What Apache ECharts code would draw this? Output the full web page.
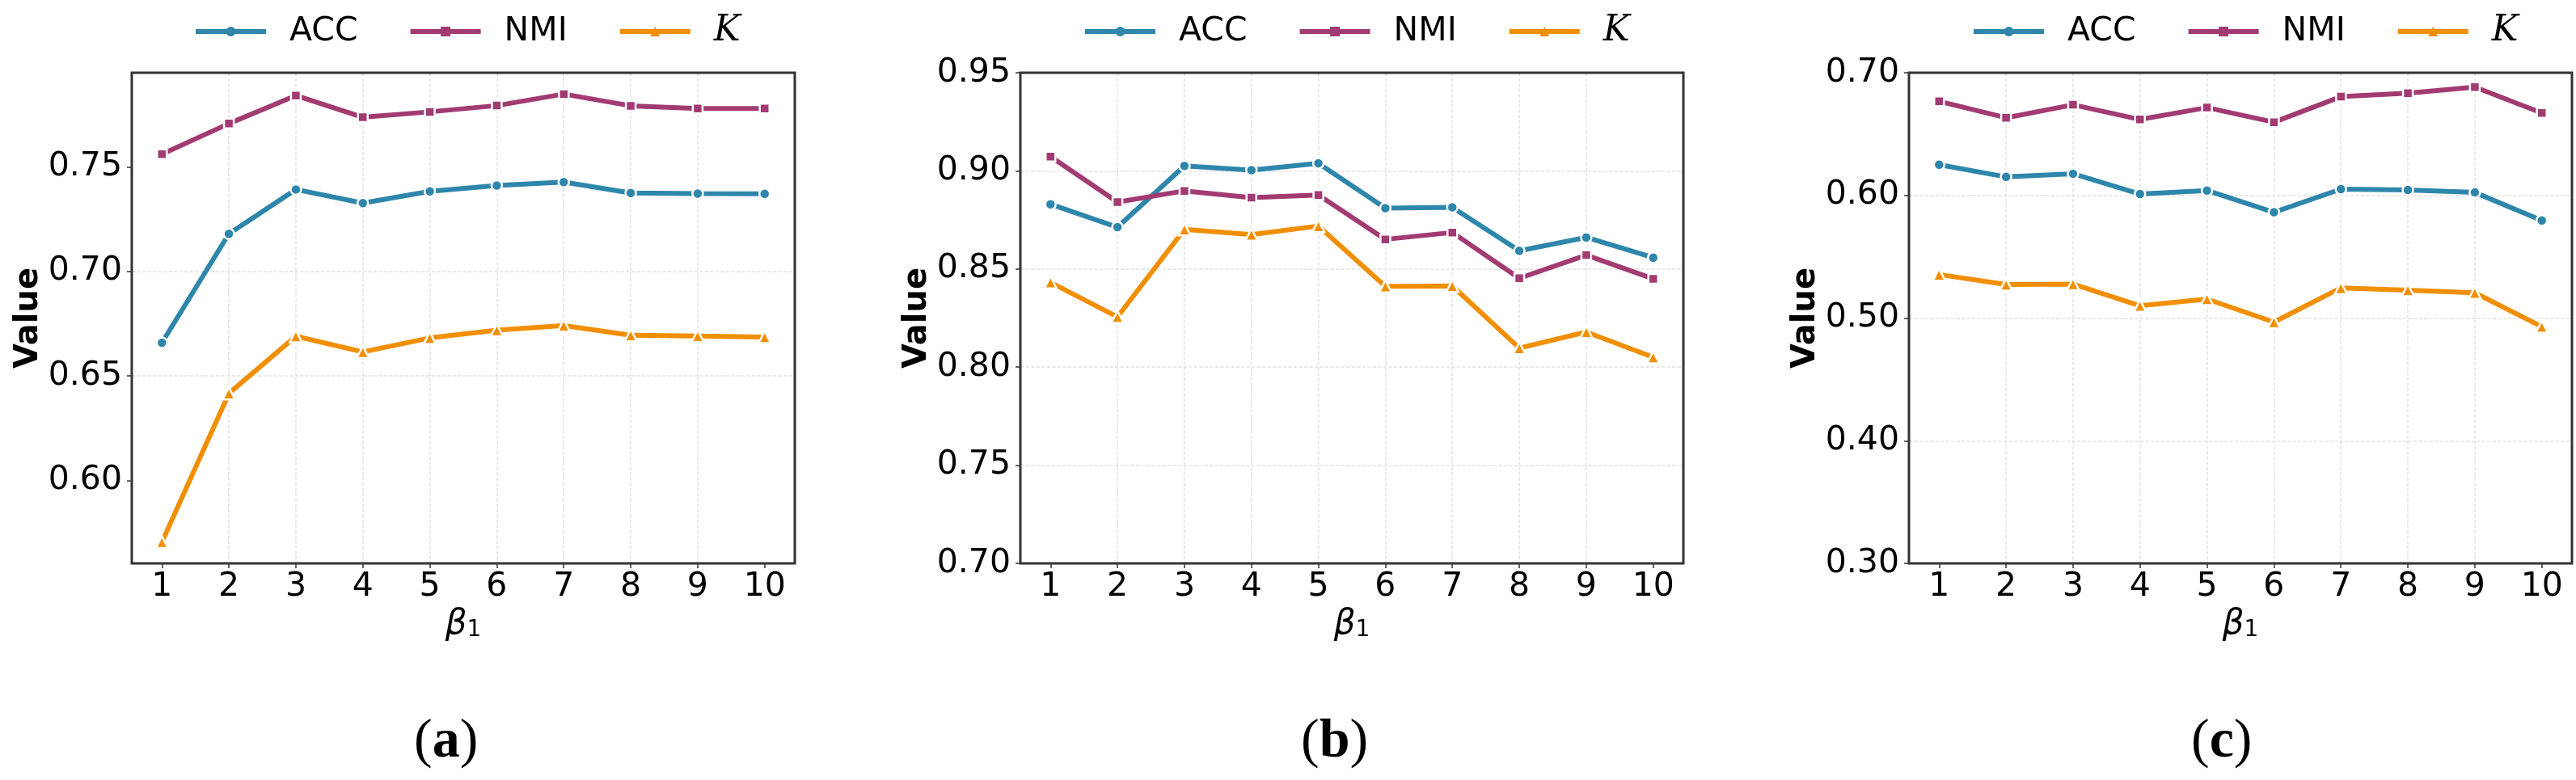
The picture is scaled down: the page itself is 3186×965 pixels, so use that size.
<!DOCTYPE html>
<html><head><meta charset="utf-8">
<script src="https://cdn.jsdelivr.net/npm/echarts@6/dist/echarts.min.js"></script>
<style>html,body{margin:0;padding:0;background:#fff}#c{width:3186px;height:965px}</style>
</head><body><div id="c"></div>
<script>
// ---- data ----
const betas = [1, 2, 3, 4, 5, 6, 7, 8, 9, 10];
const seriesNames = ['ACC', 'NMI', 'K'];
const panelLabels = ['a', 'b', 'c'];

const accA   = [0.6659, 0.7180, 0.7392, 0.7327, 0.7383, 0.7411, 0.7427, 0.7375, 0.7372, 0.7371];
const nmiA   = [0.7561, 0.7707, 0.7841, 0.7737, 0.7763, 0.7793, 0.7848, 0.7792, 0.7779, 0.7779];
const kappaA = [0.5706, 0.6417, 0.6690, 0.6615, 0.6682, 0.6719, 0.6741, 0.6695, 0.6691, 0.6686];

const accB   = [0.8830, 0.8713, 0.9025, 0.9004, 0.9039, 0.8810, 0.8814, 0.8593, 0.8661, 0.8558];
const nmiB   = [0.9073, 0.8841, 0.8898, 0.8864, 0.8877, 0.8651, 0.8686, 0.8453, 0.8571, 0.8450];
const kappaB = [0.8432, 0.8256, 0.8702, 0.8675, 0.8719, 0.8412, 0.8414, 0.8097, 0.8179, 0.8050];

const accC   = [0.6250, 0.6151, 0.6177, 0.6011, 0.6040, 0.5863, 0.6051, 0.6044, 0.6024, 0.5796];
const nmiC   = [0.6767, 0.6633, 0.6739, 0.6619, 0.6716, 0.6597, 0.6805, 0.6834, 0.6883, 0.6672];
const kappaC = [0.5355, 0.5273, 0.5277, 0.5100, 0.5155, 0.4967, 0.5246, 0.5228, 0.5206, 0.4930];

const yTicksA = [0.60, 0.65, 0.70, 0.75];
const yTicksB = [0.70, 0.75, 0.80, 0.85, 0.90, 0.95];
const yTicksC = [0.30, 0.40, 0.50, 0.60, 0.70];
const yRanges = [[0.5604, 0.7950], [0.70, 0.95], [0.30, 0.70]];

// ---- styling ----
const colors = ['#2E86AB', '#A23B72', '#F18F01'];
const symbols = ['circle', 'rect', 'triangle'];
const symbolSizes = [13, 12, 15];
const FONT = 'DejaVu Sans';

const panelData = [[accA, nmiA, kappaA], [accB, nmiB, kappaB], [accC, nmiC, kappaC]];
const yTicks = [yTicksA, yTicksB, yTicksC];
const gridLeft = [163, 1262, 2361];
const gridW = 820, gridTop = 90, gridH = 607;
const legendLeft = [234, 1334, 2433];
const labelX = [512, 1609, 2710];

const grids = [], xAxes = [], yAxes = [], series = [], legends = [], graphics = [];
const splitLineStyle = { color: '#e4e4e4', width: 1.5, type: [4.5, 2] };

for (let p = 0; p < 3; p++) {
  grids.push({ left: gridLeft[p], top: gridTop, width: gridW, height: gridH,
    show: true, borderColor: '#333', borderWidth: 3, backgroundColor: 'transparent', containLabel: false, z: 5 });
  xAxes.push({
    type: 'value', gridIndex: p, min: 0.55, max: 10.45,
    axisLine: { show: false },
    axisTick: { show: true, length: 6, lineStyle: { color: '#333', width: 1.5 }, customValues: betas },
    axisLabel: { customValues: betas, color: '#000', fontFamily: FONT, fontSize: 41, margin: 9,
      formatter: v => String(Math.round(v)) },
    splitLine: { show: true, showMinLine: false, showMaxLine: false, lineStyle: splitLineStyle },
    name: '{b|β}{s|1}', nameLocation: 'middle', nameGap: 52,
    nameTextStyle: { rich: {
      b: { fontFamily: FONT, fontStyle: 'italic', fontSize: 42, color: '#000', verticalAlign: 'bottom' },
      s: { fontFamily: FONT, fontSize: 28, color: '#000', verticalAlign: 'bottom' }
    } }
  });
  yAxes.push({
    type: 'value', gridIndex: p, min: yRanges[p][0], max: yRanges[p][1],
    axisLine: { show: false },
    axisTick: { show: true, length: 6, lineStyle: { color: '#333', width: 1.5 }, customValues: yTicks[p] },
    axisLabel: { customValues: yTicks[p], color: '#000', fontFamily: FONT, fontSize: 41, margin: 12,
      formatter: v => v.toFixed(2) },
    splitLine: { show: true, showMinLine: false, showMaxLine: false, lineStyle: splitLineStyle },
    name: 'Value', nameLocation: 'middle', nameGap: 102, nameRotate: 90,
    nameTextStyle: { fontFamily: FONT, fontWeight: 'bold', fontSize: 40, color: '#000' }
  });
  for (let s = 0; s < 3; s++) {
    series.push({
      type: 'line', name: seriesNames[s], xAxisIndex: p, yAxisIndex: p,
      data: betas.map((b, i) => [b, panelData[p][s][i]]),
      symbol: symbols[s], symbolSize: symbolSizes[s], showAllSymbol: true,
      lineStyle: { color: colors[s], width: 6 },
      itemStyle: { color: colors[s], borderColor: '#fff', borderWidth: 2.5 },
      emphasis: { disabled: true }, z: 2 + s
    });
  }
  legends.push({
    data: seriesNames, left: legendLeft[p], top: 12, orient: 'horizontal',
    itemWidth: 87, itemHeight: 15, itemGap: 62,
    lineStyle: { width: 6 },
    itemStyle: { borderWidth: 0 },
    formatter: n => n === 'K' ? '{k|K}' : n,
    textStyle: { fontFamily: FONT, fontSize: 41, color: '#000', padding: [0, 0, 0, 24],
      rich: { k: { fontFamily: 'DejaVu Serif', fontStyle: 'italic', fontSize: 44, color: '#000' } } }
  });
  graphics.push({
    type: 'text', left: labelX[p], top: 884, bounding: 'raw',
    style: { text: '{p|(}{l|' + panelLabels[p] + '}{p|)}', textAlign: 'center',
      rich: {
        p: { fontFamily: 'Liberation Serif', fontSize: 68, color: '#000' },
        l: { fontFamily: 'Liberation Serif', fontWeight: 'bold', fontSize: 68, color: '#000' }
      } }
  });
}

const chart = echarts.init(document.getElementById('c'), null, { renderer: 'canvas' });
chart.setOption({
  animation: false, backgroundColor: '#fff',
  grid: grids, xAxis: xAxes, yAxis: yAxes, series: series, legend: legends, graphic: graphics
});
</script></body></html>
